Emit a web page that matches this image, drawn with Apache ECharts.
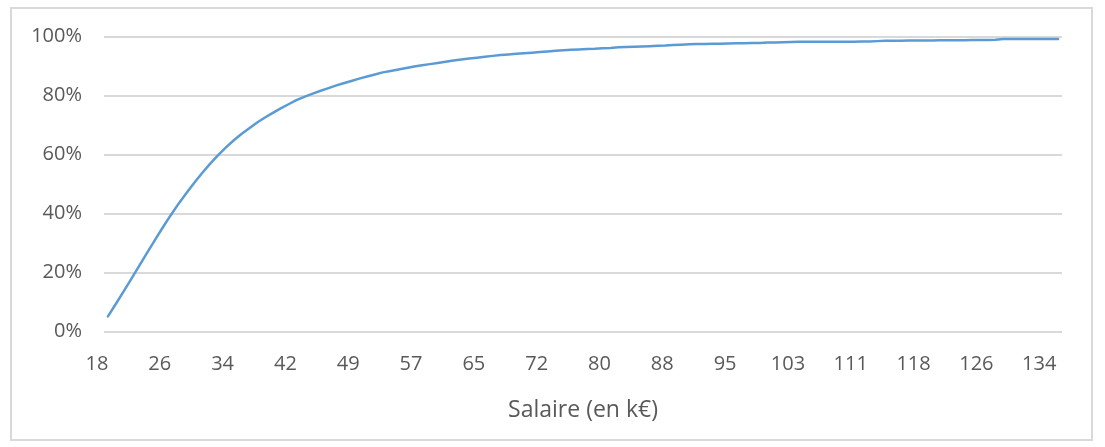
<!DOCTYPE html>
<html>
<head>
<meta charset="utf-8">
<script src="https://cdn.jsdelivr.net/npm/echarts@6/dist/echarts.min.js"></script>
<style>
  html, body { margin: 0; padding: 0; background: #ffffff; }
  #frame {
    position: absolute; left: 10px; top: 7px; width: 1083px; height: 434px;
    border: 2px solid #d9d9d9; box-sizing: border-box;
  }
  #chart { position: absolute; left: 0; top: 0; width: 1105px; height: 447px; }
</style>
</head>
<body>
<div id="frame"></div>
<div id="chart"></div>
<script>
// Salary brackets (k€), one per point of the cumulative curve
const salaries = [
  '18','19','20','21','22','23','24','25','26','27','28','29','30','31','32','33',
  '34','35','36','37','38','39','40','41','42','42','43','44','45','46','47','48',
  '49','50','51','52','53','54','55','56','57','58','59','60','61','62','63','64',
  '65','66','67','67','68','69','70','71','72','73','74','75','76','77','78','79',
  '80','81','82','83','84','85','86','87','88','89','90','91','92','92','93','94',
  '95','96','97','98','99','100','101','102','103','104','105','106','107','108','109','110',
  '111','112','113','114','115','116','116','117','118','119','120','121','122','123','124','125',
  '126','127','128','129','130','131','132','133','134','135'
];

// Cumulative share of employees (%) earning up to each salary
const cumulativeShare = [
  5.2, 9.4, 13.7, 18.0, 22.4, 26.8, 31.1, 35.4, 39.5, 43.4, 47.0, 50.5, 53.8, 56.9, 59.8, 62.4,
  64.8, 67.0, 69.0, 70.9, 72.6, 74.2, 75.7, 77.1, 78.5, 79.6, 80.6, 81.6, 82.5, 83.4, 84.2, 85.0,
  85.8, 86.5, 87.2, 87.9, 88.4, 88.9, 89.4, 89.9, 90.3, 90.7, 91.1, 91.5, 91.9, 92.3, 92.6, 92.9,
  93.2, 93.5, 93.8, 94.0, 94.2, 94.4, 94.6, 94.8, 95.0, 95.2, 95.4, 95.6, 95.7, 95.8, 95.9, 96.1,
  96.2, 96.4, 96.5, 96.6, 96.7, 96.8, 96.9, 97.0, 97.2, 97.3, 97.4, 97.5, 97.5, 97.6, 97.6, 97.7,
  97.8, 97.8, 97.9, 97.9, 98.0, 98.0, 98.1, 98.2, 98.3, 98.3, 98.3, 98.3, 98.3, 98.3, 98.3, 98.3,
  98.4, 98.4, 98.5, 98.6, 98.6, 98.6, 98.7, 98.7, 98.7, 98.7, 98.8, 98.8, 98.8, 98.8, 98.9, 98.9,
  98.9, 99.0, 99.2, 99.2, 99.2, 99.2, 99.2, 99.2, 99.2, 99.2
];

const xAxisTitle = 'Salaire (en k€)';

const textColor = '#595959';
const gridColor = '#d9d9d9';

const chart = echarts.init(document.getElementById('chart'), null, { renderer: 'canvas' });
chart.setOption({
  animation: false,
  backgroundColor: 'transparent',
  textStyle: { fontFamily: 'Open Sans' },
  grid: { left: 104, right: 43, top: 36.7, bottom: 115.3, containLabel: false },
  xAxis: {
    type: 'category',
    data: salaries,
    boundaryGap: true,
    name: xAxisTitle,
    nameLocation: 'middle',
    nameGap: 67,
    nameTextStyle: { color: textColor, fontSize: 23, fontFamily: 'Open Sans' },
    axisLine: { show: false },
    axisTick: { show: false },
    axisLabel: {
      interval: 7,
      color: textColor,
      fontSize: 20,
      fontFamily: 'Open Sans',
      margin: 23,
      padding: [0, 22, 0, 0]
    },
    splitLine: { show: false }
  },
  yAxis: {
    type: 'value',
    min: 0,
    max: 100,
    interval: 20,
    axisLine: { show: false },
    axisTick: { show: false },
    axisLabel: {
      formatter: '{value}%',
      color: textColor,
      fontSize: 20,
      fontFamily: 'Open Sans',
      margin: 22
    },
    splitLine: { lineStyle: { color: gridColor, width: 2 } }
  },
  series: [{
    type: 'line',
    data: cumulativeShare,
    showSymbol: false,
    smooth: false,
    lineStyle: { color: '#5b9bd5', width: 2.5, cap: 'round', join: 'round' },
    itemStyle: { color: '#5b9bd5' }
  }]
});
</script>
</body>
</html>
